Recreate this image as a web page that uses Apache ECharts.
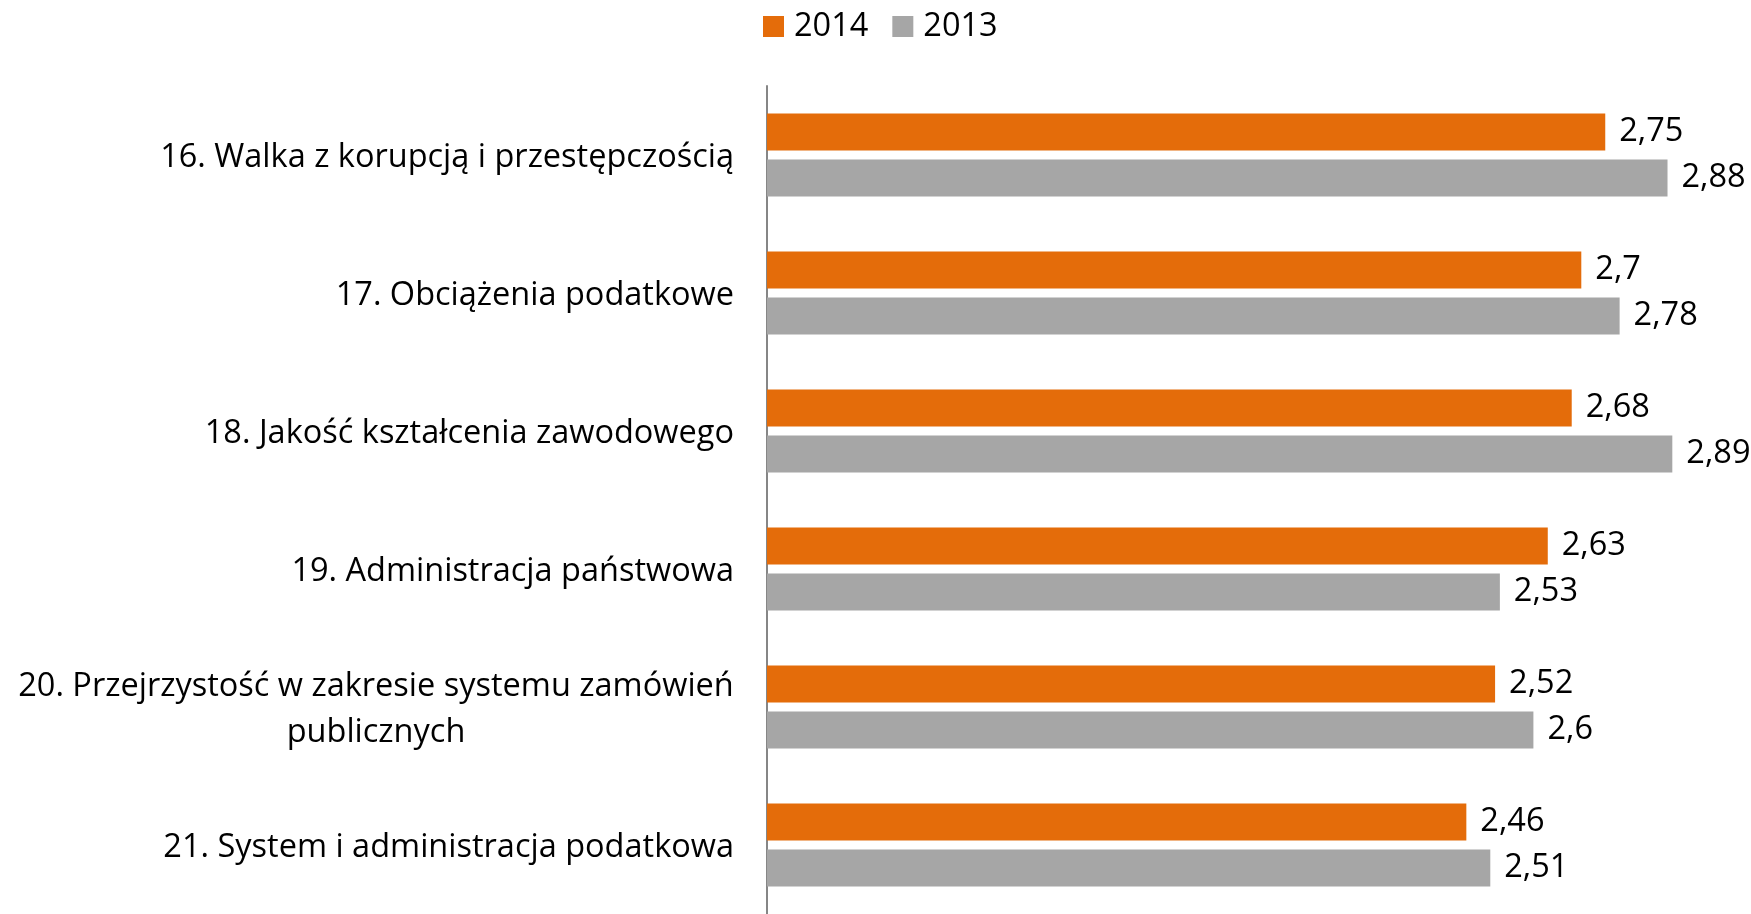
<!DOCTYPE html>
<html>
<head>
<meta charset="utf-8">
<title>Ocena czynników 2013-2014</title>
<script src="https://cdn.jsdelivr.net/npm/echarts@6/dist/echarts.min.js"></script>
<style>
    html, body { margin: 0; padding: 0; background: #fff; }
    #main { width: 1751px; height: 914px; }
</style>
</head>
<body>
<div id="main"></div>
<script type="text/javascript">
    // dane
    var categories = [
        '16. Walka z korupcją i przestępczością',
        '17. Obciążenia podatkowe',
        '18. Jakość kształcenia zawodowego',
        '19. Administracja państwowa',
        '20. Przejrzystość w zakresie systemu zamówień\npublicznych',
        '21. System i administracja podatkowa'
    ];
    var values2014 = [2.75, 2.7, 2.68, 2.63, 2.52, 2.46];
    var values2013 = [2.88, 2.78, 2.89, 2.53, 2.6, 2.51];
    var seriesNames = ['2014', '2013'];

    var FONT = '"Open Sans", "Noto Sans", sans-serif';
    var FS = 32.5;

    // szerokość najdłuższej linii - do wyśrodkowania etykiety dwuwierszowej
    var ctx = document.createElement('canvas').getContext('2d');
    ctx.font = FS + 'px ' + FONT;
    var maxLine = 0;
    categories.forEach(function (c) {
        c.split('\n').forEach(function (l) {
            maxLine = Math.max(maxLine, ctx.measureText(l).width);
        });
    });

    function fmt(v) {
        return String(v).replace('.', ',');
    }

    var myChart = echarts.init(document.getElementById('main'));
    var option = {
        animation: false,
        textStyle: { fontFamily: FONT },
        legend: {
            data: seriesNames,
            left: 763,
            top: 10,
            padding: 0,
            icon: 'rect',
            itemWidth: 21,
            itemHeight: 21,
            itemGap: 24,
            textStyle: { fontSize: FS, color: '#000', fontFamily: FONT, padding: [0, 0, 0, 5] }
        },
        grid: {
            left: 767,
            right: 26,
            top: 86,
            height: 833,
            containLabel: false
        },
        xAxis: {
            type: 'value',
            min: 1,
            max: 3,
            show: false,
            splitLine: { show: false }
        },
        yAxis: {
            type: 'category',
            inverse: true,
            data: categories,
            axisTick: { show: false },
            axisLine: { lineStyle: { color: '#868686', width: 2 } },
            axisLabel: {
                margin: 33,
                fontSize: FS,
                color: '#000',
                fontFamily: FONT,
                padding: [6, 0, 0, 0],
                formatter: function (val) {
                    if (val.indexOf('\n') < 0) return val;
                    return val.split('\n').map(function (l) { return '{c|' + l + '}'; }).join('\n');
                },
                rich: {
                    c: {
                        width: Math.ceil(maxLine),
                        align: 'center',
                        fontSize: FS,
                        color: '#000',
                        fontFamily: FONT,
                        lineHeight: 46
                    }
                }
            }
        },
        series: [
            {
                name: seriesNames[0],
                type: 'bar',
                data: values2014,
                barWidth: 37,
                barGap: '24%',
                itemStyle: { color: '#E46C0A' },
                label: {
                    show: true,
                    position: 'right',
                    distance: 14,
                    fontSize: FS,
                    color: '#000',
                    fontFamily: FONT,
                    formatter: function (p) { return fmt(p.value); }
                }
            },
            {
                name: seriesNames[1],
                type: 'bar',
                data: values2013,
                barWidth: 37,
                barGap: '24%',
                itemStyle: { color: '#A6A6A6' },
                label: {
                    show: true,
                    position: 'right',
                    distance: 14,
                    fontSize: FS,
                    color: '#000',
                    fontFamily: FONT,
                    formatter: function (p) { return fmt(p.value); }
                }
            }
        ]
    };
    myChart.setOption(option);
</script>
</body>
</html>
